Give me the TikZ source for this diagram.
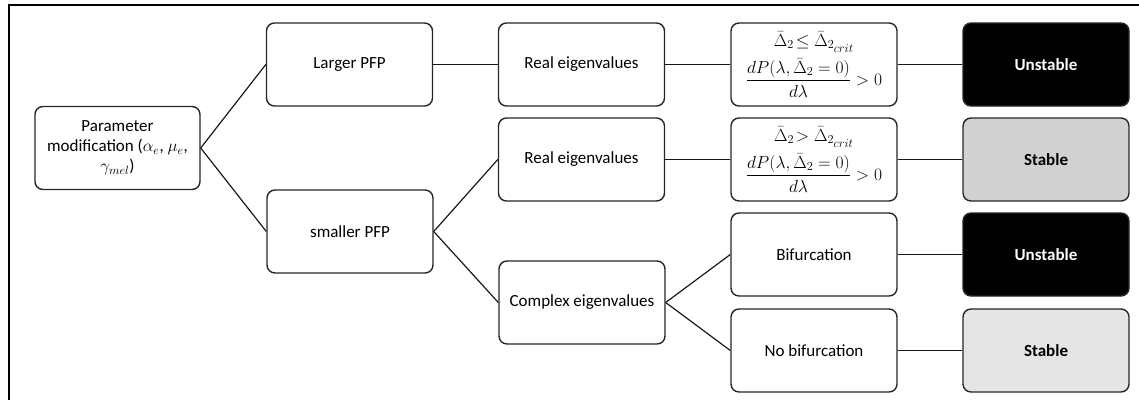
\RequirePackage{fix-cm}
\documentclass[tikz,border=0pt]{standalone}
\usepackage{amsmath}
\usepackage[no-math]{fontspec}
\setmainfont{Carlito}
\newcommand{\dcrit}{\bar{\Delta}_{2_{\scriptstyle crit}}}
\newcommand{\dfr}{\dfrac{dP(\lambda,\bar{\Delta}_2=0)}{d\lambda}>0}
\begin{document}
\begin{tikzpicture}[x=1pt,y=-1pt,
  box/.style={draw=black!85, line width=1.4pt, rounded corners=8pt, fill=white,
    minimum width=166pt, minimum height=83pt, align=center, inner sep=2pt,
    font=\fontsize{17}{20}\selectfont},
  condbox/.style={box, font=\fontsize{17.5}{20}\selectfont},
  unst/.style={box, fill=black, text=white, font=\fontsize{17}{20}\selectfont\bfseries},
  stab/.style={box, fill=black!18, font=\fontsize{17}{20}\selectfont\bfseries},
  stabl/.style={box, fill=black!10, font=\fontsize{17}{20}\selectfont\bfseries},
  link/.style={draw=black!90, line width=1.2pt}]
\useasboundingbox (0,0) rectangle (1139,399);
\draw[line width=2.2pt] (9,400) -- (9,5) -- (1139,5);

\node[box, minimum width=165pt] (param) at (117.5,148) {Parameter\\modification ($\alpha_e$, $\mu_e$,\\$\gamma_{mel}$)};
\node[box] (larger) at (349.5,64.5) {Larger PFP};
\node[box] (smaller) at (350,231.5) {smaller PFP};
\node[box] (real1) at (581.5,64.5) {Real eigenvalues};
\node[box] (real2) at (581.5,159.5) {Real eigenvalues};
\node[box] (complex) at (582,302.5) {Complex eigenvalues};
\node[condbox] (cond1) at (814,64.5) {$\begin{array}{@{}c@{}}\bar{\Delta}_2\!\le \dcrit\\[7pt]\dfr\end{array}$};
\node[condbox] (cond2) at (814,159.5) {$\begin{array}{@{}c@{}}\bar{\Delta}_2\!> \dcrit\\[7pt]\dfr\end{array}$};
\node[box] (bif) at (814,254.5) {Bifurcation};
\node[box] (nobif) at (814,350.5) {No bifurcation};
\node[unst] (u1) at (1046,64.5) {Unstable};
\node[stab] (s1) at (1046,159.5) {Stable};
\node[unst] (u2) at (1046,254.5) {Unstable};
\node[stabl] (s2) at (1046,350.5) {Stable};

\draw[link] (param.east) -- (larger.west);
\draw[link] (param.east) -- (smaller.west);
\draw[link] (larger.east) -- (real1.west);
\draw[link] (smaller.east) -- (real2.west);
\draw[link] (smaller.east) -- (complex.west);
\draw[link] (real1.east) -- (cond1.west);
\draw[link] (real2.east) -- (cond2.west);
\draw[link] (complex.east) -- (bif.west);
\draw[link] (complex.east) -- (nobif.west);
\draw[link] (cond1.east) -- (u1.west);
\draw[link] (cond2.east) -- (s1.west);
\draw[link] (bif.east) -- (u2.west);
\draw[link] (nobif.east) -- (s2.west);
\end{tikzpicture}
\end{document}
